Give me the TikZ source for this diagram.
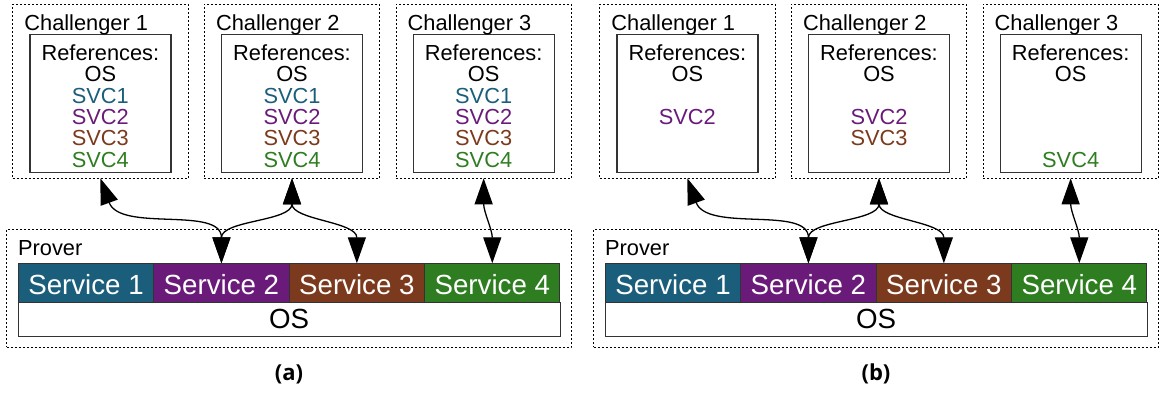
\documentclass[tikz,border=0pt]{standalone}
\usepackage{fontspec}
\setmainfont{Liberation Sans}
\newfontfamily\capfont{Open Sans}
\usetikzlibrary{arrows.meta}
\definecolor{svcone}{HTML}{1B5E7B}
\definecolor{svctwo}{HTML}{6A1B7A}
\definecolor{svcthree}{HTML}{7B3A1D}
\definecolor{svcfour}{HTML}{2E7D20}
\definecolor{edge}{HTML}{333333}
\begin{document}
\begin{tikzpicture}[x=0.5pt,y=-0.5pt,
  sz/.style n args={2}{minimum width=#1*0.5pt,minimum height=#2*0.5pt},
  group/.style={draw=black,line width=0.5pt,dash pattern=on 1pt off 1pt,inner sep=0pt,outer sep=0pt},
  refbox/.style={draw=edge,line width=0.65pt,inner sep=0pt,outer sep=0pt,sz={141}{138.4}},
  svcbox/.style={draw=edge,line width=0.5pt,inner sep=0pt,outer sep=0pt,sz={135.4}{39}},
  small/.style={inner sep=0pt,font=\fontsize{10.9}{13}\selectfont},
  big/.style={inner sep=0pt,font=\fontsize{13.85}{16}\selectfont},
  link/.style={line width=0.65pt,arrows={Triangle[length=13pt,width=9pt]-Triangle[length=13pt,width=9pt]}},
]
\useasboundingbox (0,0) rectangle (1168,392);

% two panels: challengers on top, prover stack below
\foreach \p/\dx in {a/0,b/587}{
  \begin{scope}[shift={(\dx,0)}]
    \foreach \i/\cx in {1/100.35,2/292,3/483.65}{
      \node[group,sz={175.3}{174.3}] (\p-c\i) at (\cx,91.15) {};
      \node[refbox] (\p-r\i) at (\cx,103.5) {};
      \node[small,anchor=base west] (\p-t\i) at (\cx-76.35,30) {Challenger \i};
      \node[small,anchor=base] (\p-h\i) at (\cx,60.5) {References:};
      \node[small,anchor=base] (\p-o\i) at (\cx,81.8) {OS};
    }
    \node[group,sz={564.3}{118.3}] (\p-prover) at (288.85,288.15) {};
    \node[small,anchor=base west] (\p-pl) at (17.7,255) {Prover};
    \foreach \i/\c [evaluate=\i as \sx using 18.3+135.425*\i-67.7125] in {1/svcone,2/svctwo,3/svcthree,4/svcfour}{
      \node[svcbox,fill=\c] (\p-s\i) at (\sx,282.8) {};
      \node[big,anchor=base,text=white] (\p-sl\i) at (\sx,294) {Service \i};
    }
    \node[draw=edge,line width=0.5pt,inner sep=0pt,outer sep=0pt,sz={541.7}{33.7}] (\p-os) at (289.15,319.15) {};
    \node[big,anchor=base] (\p-osl) at (289.15,328.3) {OS};
    \node[anchor=base,inner sep=0pt,font=\capfont\bfseries\fontsize{11}{13}\selectfont] (\p-cap) at (289,380) {(\p)};
    % attestation links
    \draw[link] (\p-c1.south) to[out=-70,in=90] (\p-s2.north);
    \draw[link] (\p-c2.south) to[out=-90,in=90] (\p-s2.north);
    \draw[link] (\p-c2.south) to[out=-90,in=90] (\p-s3.north);
    \draw[link] (\p-c3.south) to[out=-90,in=90] (\p-s4.north);
  \end{scope}
}

% reference lists, panel (a): every challenger knows all services
\foreach \i/\cx in {1/100.35,2/292,3/483.65}{
  \node[small,anchor=base,text=svcone]   (a-v\i1) at (\cx,103.1) {SVC1};
  \node[small,anchor=base,text=svctwo]   (a-v\i2) at (\cx,124.4) {SVC2};
  \node[small,anchor=base,text=svcthree] (a-v\i3) at (\cx,145.7) {SVC3};
  \node[small,anchor=base,text=svcfour]  (a-v\i4) at (\cx,167) {SVC4};
}

% reference lists, panel (b): only the services each challenger checks
\node[small,anchor=base,text=svctwo]   (b-v12) at (687.35,124.4) {SVC2};
\node[small,anchor=base,text=svctwo]   (b-v22) at (879,124.4) {SVC2};
\node[small,anchor=base,text=svcthree] (b-v23) at (879,145.7) {SVC3};
\node[small,anchor=base,text=svcfour]  (b-v34) at (1070.65,167) {SVC4};
\end{tikzpicture}
\end{document}
